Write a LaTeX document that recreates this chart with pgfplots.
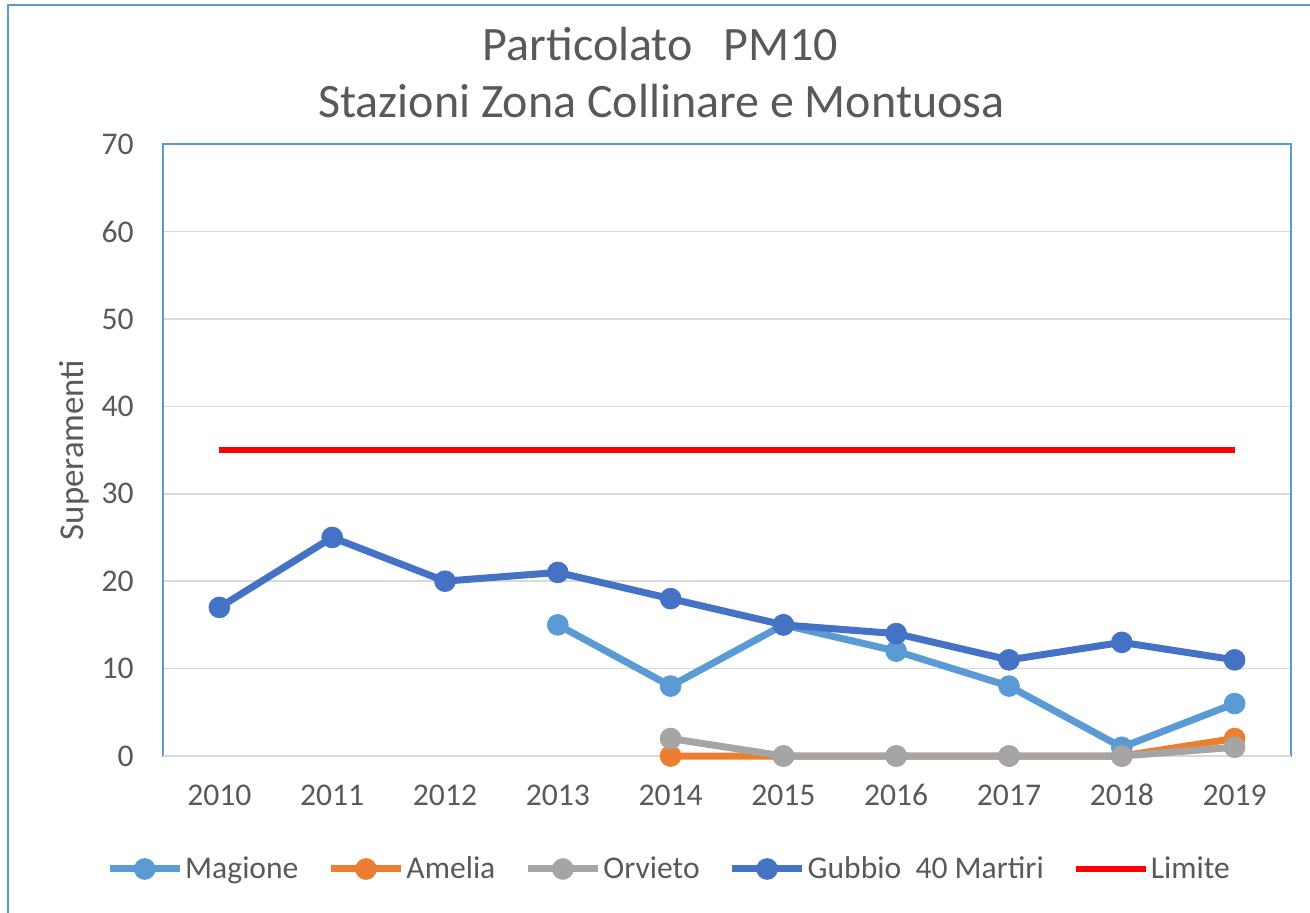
\documentclass[border=0pt]{standalone}
\usepackage{fontspec}
\setmainfont{Carlito}
\usepackage{pgfplots}
\pgfplotsset{compat=1.18}
\definecolor{cMag}{HTML}{5B9BD5}
\definecolor{cAme}{HTML}{ED7D31}
\definecolor{cOrv}{HTML}{A5A5A5}
\definecolor{cGub}{HTML}{4472C4}
\definecolor{cLim}{HTML}{FF0000}
\definecolor{textc}{HTML}{595959}
\definecolor{gridc}{HTML}{D9D9D9}
\definecolor{framec}{HTML}{5B9BD5}
\begin{document}
\begin{tikzpicture}
\useasboundingbox (0pt,0pt) rectangle (655pt,-456pt);
\draw[framec, line width=1.3pt] (4pt,-470pt) -- (4pt,-2.5pt) -- (670pt,-2.5pt);
\node[anchor=base, text=textc, font=\fontsize{24}{28}\selectfont] at (330.25pt,-30pt) {Particolato\hspace{15.5pt}PM10};
\node[anchor=base, text=textc, font=\fontsize{24}{28}\selectfont] at (330.75pt,-58.5pt) {Stazioni Zona Collinare e Montuosa};
\node[rotate=90, text=textc, font=\fontsize{17.4}{20}\selectfont] at (37pt,-225pt) {Superamenti};
\begin{axis}[
  at={(81.5pt,-378pt)}, anchor=south west,
  scale only axis, width=564pt, height=306pt,
  xmin=-0.5, xmax=9.5, ymin=0, ymax=70,
  xtick={0,1,2,3,4,5,6,7,8,9},
  xticklabels={2010,2011,2012,2013,2014,2015,2016,2017,2018,2019},
  ytick={0,10,20,30,40,50,60,70},
  ymajorgrids,
  grid style={color=gridc, line width=0.8pt},
  axis line style={framec, line width=1pt},
  tick style={draw=none},
  /pgf/number format/assume math mode=true,
  ticklabel style={text=textc, font=\fontsize{15.8}{19}\selectfont},
  yticklabel style={anchor=east, inner sep=0pt, xshift=-14.5pt},
  xticklabel style={anchor=north, inner sep=0pt, text height=10pt, text depth=0pt, yshift=-14.5pt},
  clip=false,
  legend columns=5,
  legend style={at={(0.4486,-0.1846)}, anchor=center, draw=none, fill=none,
    font=\fontsize{15.8}{19}\selectfont, text=textc,
    nodes={inner sep=1pt},
    /tikz/every even column/.append style={column sep=13.5pt}},
  legend image code/.code={\draw[mark repeat=2,mark phase=2] plot coordinates {(0pt,0pt) (17.5pt,0pt) (35pt,0pt)};},
  every axis plot/.append style={line width=3.5pt, mark=*, mark size=5.2pt, mark options={solid, line width=0.4pt}},
]
\draw[gridc, line width=1pt] (rel axis cs:0,0) -- (rel axis cs:1,0);
\addplot[color=cMag] coordinates {(3,15)(4,8)(5,15)(6,12)(7,8)(8,1)(9,6)};
\addlegendentry{Magione}
\addplot[color=cAme] coordinates {(4,0)(5,0)(6,0)(7,0)(8,0)(9,2)};
\addlegendentry{Amelia}
\addplot[color=cOrv] coordinates {(4,2)(5,0)(6,0)(7,0)(8,0)(9,1)};
\addlegendentry{Orvieto}
\addplot[color=cGub] coordinates {(0,17)(1,25)(2,20)(3,21)(4,18)(5,15)(6,14)(7,11)(8,13)(9,11)};
\addlegendentry{Gubbio\ \ 40 Martiri}
\addplot[color=cLim, line width=3pt, mark=none] coordinates {(0,35)(1,35)(2,35)(3,35)(4,35)(5,35)(6,35)(7,35)(8,35)(9,35)};
\addlegendentry{Limite}
\end{axis}
\end{tikzpicture}
\end{document}
